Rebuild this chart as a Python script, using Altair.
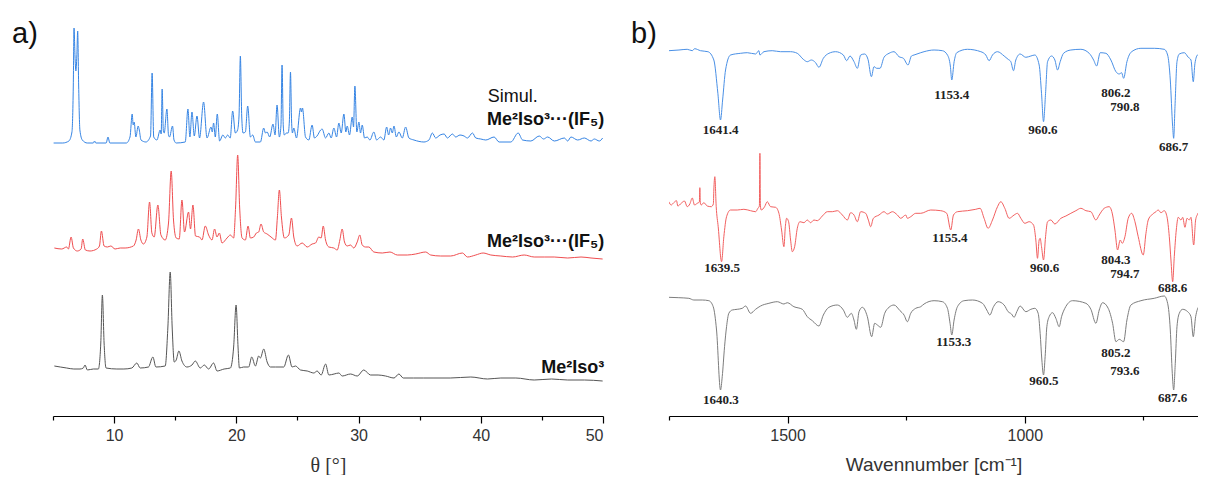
import altair as alt
import pandas as pd

# ---------------- a) powder XRD patterns (theta in degrees, intensity a.u. incl. stacking offset) -------------
XRD_SIM_THETA = [5.05, 5.8, 6.3, 6.55, 6.66, 6.72, 6.8, 6.87, 6.95, 7.02, 7.1, 7.2, 7.4, 7.8, 8.3, 8.4, 8.5, 9.35, 9.5, 9.65,
                 11.0, 11.3, 11.48, 11.56, 11.64, 11.78, 11.97, 12.06, 12.2, 12.6, 12.98, 13.11, 13.24, 13.5, 13.77, 13.85,
                 13.93, 14.03, 14.1, 14.32, 14.45, 14.53, 14.78, 14.9, 15.08, 15.82, 16.04, 16.2, 16.37, 16.56, 16.78, 16.99,
                 17.32, 17.6, 17.93, 18.03, 18.14, 18.28, 18.44, 18.63, 18.9, 19.1, 19.29, 19.5, 19.7, 19.92, 20.1, 20.22,
                 20.33, 20.44, 20.55, 20.74, 20.93, 21.15, 21.34, 21.56, 21.97, 22.24, 22.38, 22.52, 22.73, 23.0, 23.17,
                 23.33, 23.52, 23.65, 23.74, 23.84, 23.93, 24.1, 24.24, 24.34, 24.43, 24.52, 24.59, 24.7, 24.92, 25.25,
                 25.33, 25.41, 25.66, 25.93, 26.2, 26.39, 26.6, 26.9, 27.02, 27.3, 27.57, 27.76, 27.98, 28.2, 28.39, 28.58,
                 28.8, 28.96, 29.07, 29.26, 29.48, 29.59, 29.7, 29.86, 30.03, 30.16, 30.3, 30.49, 30.71, 30.93, 31.25,
                 31.48, 31.8, 32.07, 32.3, 32.46, 32.62, 32.76, 32.9, 33.09, 33.3, 33.58, 33.85, 34.12, 34.53, 35.35,
                 35.76, 36.04, 36.31, 36.67, 37.0, 37.27, 37.68, 37.95, 38.3, 38.63, 38.91, 39.32, 39.59, 40.0, 40.41,
                 41.09, 41.5, 42.46, 43.06, 43.42, 44.1, 44.78, 45.14, 45.47, 46.02, 46.84, 47.11, 47.38, 47.93, 48.47,
                 49.02, 49.29, 49.7, 49.97]
XRD_SIM_I = [273, 273, 275, 284, 330, 388, 360, 345, 360, 385, 330, 286, 276, 273, 273, 275, 273, 273, 279, 273,
             273, 279, 302, 291, 294, 279, 290, 286, 276, 274, 280, 343, 279, 276, 286, 282,
             327, 285, 283, 307, 281, 279, 290, 276, 273, 274, 307, 279, 304, 280, 300, 278,
             314, 278, 289, 284, 293, 279, 302, 275, 281, 278, 281, 278, 305, 283, 286, 300,
             360, 300, 283, 284, 310, 279, 281, 274, 274, 288, 283, 284, 279, 292, 281,
             311, 279, 290, 351, 290, 281, 283, 283, 295, 344, 295, 283, 288, 278, 308,
             304, 308, 279, 276, 291, 278, 280, 286, 287, 278, 283, 278, 288, 279, 293, 283,
             302, 284, 290, 281, 299, 289, 330, 284, 294, 283, 291, 278, 279, 276, 284,
             276, 279, 276, 289, 281, 288, 283, 290, 279, 284, 278, 289, 278, 276, 274,
             276, 283, 278, 281, 282, 278, 282, 279, 281, 280, 278, 283, 278, 277, 276,
             279, 274, 274, 283, 276, 275, 280, 277, 279, 275, 278, 275, 279, 276, 278,
             275, 277, 275, 278]

XRD_CO_THETA = [5.11, 5.71, 6.12, 6.26, 6.48, 6.67, 6.99, 7.3, 7.43, 7.65, 8.03, 8.58, 8.8, 8.96, 9.18, 9.45, 9.73, 10.08,
                10.5, 10.9, 11.58, 11.8, 11.99, 12.19, 12.4, 12.68, 12.9, 13.09, 13.28, 13.58, 13.83, 14.18, 14.45, 14.67,
                14.86, 15.08, 15.33, 15.55, 15.76, 16.09, 16.25, 16.45, 16.66, 16.99, 17.19, 17.46, 17.73, 18.01, 18.22,
                18.42, 18.61, 18.83, 19.24, 19.51, 19.78, 19.94, 20.11, 20.27, 20.47, 20.74, 20.96, 21.15, 21.42, 21.64,
                21.83, 22.02, 22.24, 22.52, 22.84, 23.2, 23.36, 23.52, 23.69, 23.93, 24.29, 24.51, 24.7, 24.97, 25.39,
                25.8, 26.2, 26.48, 26.75, 26.94, 27.11, 27.3, 27.57, 27.98, 28.25, 28.47, 28.66, 28.85, 29.07, 29.34,
                29.61, 29.89, 30.1, 30.3, 30.57, 30.84, 31.25, 31.94, 32.57, 33.17, 33.99, 34.67, 35.49, 35.9, 36.72,
                37.54, 38.5, 38.91, 39.59, 40.19, 40.82, 41.64, 42.6, 43.55, 44.37, 45.19, 46.01, 47.11, 48.2, 49.02,
                49.97]
XRD_CO_I = [168, 167, 169, 167, 179, 168, 165, 167, 177, 166, 165, 167, 170, 185, 170, 169, 170, 167,
            168, 168, 170, 176, 187, 176, 172, 179, 214, 183, 179, 211, 181, 176, 193, 245,
            196, 178, 177, 216, 184, 204, 187, 211, 180, 179, 176, 190, 181, 176, 187,
            179, 183, 173, 178, 181, 178, 209, 261, 209, 178, 176, 190, 178, 179, 183,
            184, 192, 184, 182, 179, 176, 199, 226, 199, 178, 181, 198, 179, 170, 173,
            169, 172, 173, 179, 178, 190, 176, 169, 168, 166, 176, 187, 174, 170, 171,
            168, 174, 181, 171, 169, 169, 164, 163, 164, 161, 161, 162, 164, 161, 160,
            160, 163, 159, 161, 163, 161, 160, 159, 161, 159, 159, 159, 158, 159, 158,
            157]

XRD_ISO_THETA = [5.11, 5.6, 6.12, 6.7, 7.21, 7.48, 7.62, 7.81, 8.3, 8.71, 8.91, 9.04, 9.18, 9.34, 10.22, 10.8, 11.45,
                 11.86, 12.13, 12.81, 13.17, 13.42, 14.18, 14.4, 14.59, 14.75, 14.92, 15.08, 15.3, 15.55, 15.96, 16.37,
                 16.64, 17.05, 17.38, 17.73, 18.14, 18.42, 19.0, 19.51, 19.78, 19.98, 20.14, 20.25, 20.6, 21.01, 21.26,
                 21.56, 21.83, 21.97, 22.24, 22.52, 22.79, 23.2, 23.88, 24.26, 24.56, 24.84, 25.25, 25.8, 26.34, 26.61,
                 26.94, 27.3, 27.57, 28.0, 28.39, 28.66, 29.34, 29.89, 30.43, 30.98, 31.6, 32.21, 32.9, 33.3, 33.66,
                 34.5, 35.3, 36.17, 37.5, 39.18, 40.55, 41.64, 42.87, 44.37, 45.8, 47.11, 48.5, 49.97]
XRD_ISO_I = [50, 49, 48, 47, 47, 48, 51, 46, 47, 47, 73, 121, 73, 48, 47, 47, 48,
             53, 48, 49, 59, 49, 50, 89, 144, 89, 54, 56, 65, 55, 49, 51,
             55, 48, 51, 47, 53, 45, 47, 48, 69, 111, 69, 48, 49, 49, 59,
             50, 60, 58, 67, 54, 49, 49, 49, 61, 49, 50, 46, 45, 43, 45,
             41, 52, 41, 42, 43, 40, 42, 40, 46, 41, 41, 40, 38, 42, 38,
             38, 38, 38, 38, 39, 37, 38, 38, 36, 37, 36, 36, 35]

XRD_SERIES = ["Simul. Me2Iso3···(IF5)", "Me2Iso3···(IF5)", "Me2Iso3"]
XRD_COLORS = ["#3584e4", "#ef4d4f", "#555555"]

XRD_LABEL_THETA = [50.1, 50.1, 50.1]
XRD_LABEL_I = [291, 169, 43]
XRD_LABEL_TEXT = ["Me²Iso³···(IF₅)", "Me²Iso³···(IF₅)", "Me²Iso³"]
SIMUL_THETA, SIMUL_I, SIMUL_TEXT = [40.57], [314], ["Simul."]

# ---------------- b) IR spectra (wavenumber, transmittance a.u. incl. offset) ----------------
IR_SIM_WN = [1750.4, 1729, 1711.6, 1701, 1696, 1683.6, 1668, 1655.5, 1647, 1641.4, 1637, 1630.8, 1620.3, 1599, 1585,
             1567.5, 1560.5, 1558.4, 1550, 1532.4, 1514.8, 1493.7, 1479.6, 1467, 1458.5, 1450, 1441, 1434, 1424.7,
             1412.9, 1398.7, 1382.5, 1375.5, 1368.5, 1360, 1353, 1346, 1337.6, 1330.6, 1323.4, 1317.9, 1312.2, 1305.2,
             1296.8, 1286.2, 1275.7, 1265.2, 1255.9, 1246.2, 1239, 1233.5, 1219.4, 1212.4, 1191.3, 1173.7, 1163.1,
             1157, 1154, 1149, 1143.5, 1121, 1092.8, 1082.3, 1075.3, 1068.2, 1057.6, 1043.6, 1035.2, 1029.5, 1023.9,
             1019, 1009.9, 997.9, 987.3, 978.9, 969.8, 964.8, 960.6, 956.3, 952.1, 943.7, 936.7, 931, 925.5, 918.4,
             903, 881.9, 864.3, 855, 848.7, 841.1, 829.1, 818.6, 808, 801, 796, 791.8, 784.8, 774.9, 755.3, 727.2,
             706.1, 699, 693.4, 688.4, 686.3, 683.5, 679.3, 674.4, 663.9, 655.5, 649.8, 645, 641.4, 635.7, 628.6,
             625.1, 621.6, 616]
IR_SIM_T = [365.3, 366, 366.7, 365.3, 367.3, 365.3, 364.3, 356, 322.7, 296, 316, 346, 361, 362.7, 363.3,
            362, 365.3, 361, 364.3, 365.3, 364.3, 364.3, 362.7, 356.7, 354.3, 356, 353.3, 348.7, 357.7,
            362.7, 364.3, 361, 355.3, 360, 354.3, 347.7, 361, 362, 356.7, 339.3, 349.3, 347.7, 347.7,
            358.7, 362.7, 364.3, 359.3, 357.7, 351, 360, 361, 363.3, 364.3, 366, 365.3, 361,
            350, 336, 354.3, 363.3, 366.7, 364.3, 361, 355.3, 361, 364.3, 360, 356.7, 354.3, 345.3,
            356, 362, 358.7, 360, 361, 351, 322.7, 294.3, 322.7, 354.3, 360, 356, 346, 354.3, 362.7,
            366, 366.7, 362.7, 356, 350, 363.3, 362.7, 356, 344.3, 342, 343.3, 337.7, 354.3, 364.3, 367.7, 367.7,
            366.7, 361, 336, 289.3, 277.7, 309.3, 354.3, 362, 363.3, 358.7, 356, 334.3, 352.7, 361, 357.7,
            347.7, 364.3, 374.3]

IR_CO_WN = [1750.4, 1745.4, 1740, 1734.2, 1731.4, 1724.3, 1717.3, 1711.6, 1706.1, 1701, 1696.2, 1690.5, 1686, 1685,
            1684, 1682, 1676.6, 1669.4, 1661, 1656.5, 1655.5, 1653.4, 1650.5, 1646.3, 1639.2, 1634.4, 1628.7, 1620.3,
            1606.2, 1592.2, 1578.1, 1567.5, 1562.6, 1559.5, 1558.4, 1557.3, 1555.5, 1548.5, 1542.9, 1535.9, 1525.3,
            1518.3, 1512.7, 1507.8, 1504.8, 1502.1, 1497.9, 1493.7, 1490.1, 1485.2, 1479.6, 1474, 1465.6, 1458.5,
            1451.5, 1444.5, 1437.4, 1426.8, 1416.3, 1405.7, 1395.2, 1384.6, 1374.1, 1367.1, 1360, 1353, 1346, 1335.5,
            1329.8, 1324.9, 1319.3, 1307.4, 1296.8, 1289.7, 1279.1, 1268.6, 1261.6, 1251, 1247.5, 1240.5, 1229.9,
            1219.4, 1198.3, 1177.2, 1164.6, 1156.1, 1150.4, 1142, 1121, 1103.4, 1094.3, 1085.9, 1077.4, 1068.2,
            1057.6, 1050.6, 1042.2, 1033.1, 1022.6, 1015.5, 1008.4, 1000, 990.9, 981.7, 976.8, 973.3, 969.8, 967.7,
            964.8, 960.6, 956.3, 952.1, 945.1, 936.7, 924, 913.5, 903, 892.4, 881.9, 871.3, 860.8, 850.2, 843.2,
            832.7, 822.2, 815, 810.1, 804.5, 799, 794.7, 789, 782.1, 774.9, 767.9, 761, 750.4, 744.7, 739.9, 732.7,
            723.6, 718.8, 713.1, 706.1, 700.4, 695.5, 692, 688.4, 685, 680.8, 676.6, 670.9, 667.3, 662.5, 658.2,
            653.4, 649.8, 644.1, 640, 635.7, 630.9, 626.7, 623.1, 619.7, 616]
IR_CO_T = [214.3, 211, 213.3, 215.3, 210, 212.7, 215, 209.3, 212, 218, 211, 212.7, 214, 228.3,
           213, 211, 213.3, 210, 209.3, 212, 226, 239.3, 209.3, 189.3, 154.3, 179.3, 199.3, 206,
           206, 206.7, 205.3, 204.3, 207.7, 210, 262.7, 210, 206, 209.3, 214.3, 209.3, 208.7,
           202.7, 186, 169.3, 189.3, 197.7, 194.3, 176, 164.3, 169.3, 187.7, 194.3, 193.3, 196,
           193.3, 196, 195.3, 200, 204.3, 204.3, 205.3, 201, 196, 203.3, 201, 194.3, 204.3, 202.7,
           196, 189.3, 197.7, 201, 204.3, 202, 204.3, 201, 197.7, 201, 197.7, 199.3, 202.7,
           202.7, 206, 205.3, 202.7, 186, 201, 204.3, 205.3, 206.7, 207.7, 197.7, 187.7, 196,
           209.3, 214.3, 207.7, 197.7, 201, 202.7, 197.7, 192.7, 194.3, 191, 176, 157.7, 176, 177.7,
           169.3, 156, 179.3, 194.3, 196, 192, 197.7, 200, 202.7, 205.3, 207.7, 205.3, 204.3, 196, 201,
           207.7, 209.3, 201, 186, 166, 176, 172.7, 179.3, 197.7, 202.7, 194.3, 179.3, 161, 182.7, 196, 201,
           204.3, 206, 203.3, 205.3, 199.3, 179.3, 156, 134.3, 159.3, 186, 198.7, 196, 198.7, 188.7, 197.7,
           196, 198.7, 171, 196, 202, 206, 217.7, 176, 221, 189.3]

IR_ISO_WN = [1750.4, 1729.3, 1708.2, 1697.7, 1680, 1666, 1656.8, 1649.8, 1641.4, 1637.8, 1632.9, 1628.7, 1623.9,
             1616.7, 1606.2, 1595.6, 1588.6, 1578.1, 1567.5, 1557, 1539.4, 1521.7, 1507.8, 1500.7, 1486.7, 1469,
             1458.5, 1447.9, 1434, 1424.7, 1412.9, 1395.2, 1382.5, 1374.1, 1365.7, 1360.1, 1355.1, 1349.5, 1342.4,
             1331.9, 1322.8, 1316.5, 1310.8, 1303.8, 1295.4, 1286.3, 1275.7, 1263.1, 1254.6, 1247.5, 1240.5, 1229.9,
             1219.4, 1212.4, 1191.3, 1173.7, 1163.1, 1157.6, 1154, 1149.1, 1142, 1128, 1110.4, 1089.2, 1080.2, 1073.8,
             1066, 1056.3, 1043.6, 1035.2, 1028.1, 1022.6, 1016.9, 1009.9, 997.9, 987.3, 978.9, 971.9, 967.7, 964.1,
             960.6, 957.2, 953.6, 948.7, 941.6, 934.6, 927.6, 922.6, 915.6, 899.4, 871.3, 860.8, 850.2, 843.2, 836.1,
             824.3, 815, 808, 801, 791.8, 784.8, 776.4, 755.3, 727.2, 706.1, 699, 693.4, 689.2, 686.3, 682.9, 679.3,
             674.4, 667.3, 656.8, 649.8, 645, 640, 632.3, 626.7, 621.9, 614.7]
IR_ISO_T = [118.7, 118.3, 117.7, 116, 116, 115.3, 109.3, 86, 26, 39.3, 69.3, 89.3, 102.7,
            106, 106.7, 107.7, 110, 102.7, 106.7, 110, 112.7, 114.3, 112, 113.3, 109.3, 106.7,
            99.3, 95.3, 90, 101, 108.7, 111, 106, 98.7, 102.7, 96, 86.7, 104.3, 108.7,
            99.3, 79.3, 92.7, 91, 88.7, 102.7, 108.7, 111, 105.3, 101, 94.3, 102.7, 107.7,
            109.3, 112, 115.3, 114.3, 107.7, 92.7, 81, 96, 109.3, 115.3, 116, 112.7, 106, 101,
            109.3, 114.3, 111, 104.3, 102, 98.7, 104.3, 110, 104.3, 106.7, 107.7, 102.7, 82.7, 56,
            41, 59.3, 89.3, 99.3, 103.3, 97.7, 89.3, 99.3, 107.7, 115.3, 112.7, 106.7, 92.7, 106, 113.3,
            107.7, 92.7, 74.3, 76.7, 74.3, 96, 111, 115.3, 117.7, 120, 112.7, 86, 42.7, 26, 52.7, 89.3,
            102.7, 106.7, 104.3, 99.3, 79.3, 99.3, 109.3, 104.3, 99.3, 112]

IR_SERIES = ["Simul. Me2Iso3···(IF5)", "Me2Iso3···(IF5)", "Me2Iso3"]
IR_COLORS = ["#4a90e6", "#f25f5f", "#7d7d7d"]

IR_LABEL_WN = [1641.4, 1154, 962, 808, 789, 686.3,
               1637.8, 1158, 958.4, 808, 789, 688.4,
               1640.8, 1150, 960, 808, 789, 688.4]
IR_LABEL_T = [286, 321, 286, 323, 309, 269,
              148, 178, 148, 156, 142, 128,
              16.5, 74, 35, 63, 45.5, 18.5]
IR_LABEL_TEXT = ["1641.4", "1153.4", "960.6", "806.2", "790.8", "686.7",
                 "1639.5", "1155.4", "960.6", "804.3", "794.7", "688.6",
                 "1640.3", "1153.3", "960.5", "805.2", "793.6", "687.6"]

# ---------------- build frames ----------------
xrd_df = pd.concat([
    pd.DataFrame({"x": XRD_SIM_THETA, "y": XRD_SIM_I, "series": XRD_SERIES[0]}),
    pd.DataFrame({"x": XRD_CO_THETA, "y": XRD_CO_I, "series": XRD_SERIES[1]}),
    pd.DataFrame({"x": XRD_ISO_THETA, "y": XRD_ISO_I, "series": XRD_SERIES[2]}),
])
ir_df = pd.concat([
    pd.DataFrame({"x": IR_SIM_WN, "y": IR_SIM_T, "series": IR_SERIES[0]}),
    pd.DataFrame({"x": IR_CO_WN, "y": IR_CO_T, "series": IR_SERIES[1]}),
    pd.DataFrame({"x": IR_ISO_WN, "y": IR_ISO_T, "series": IR_SERIES[2]}),
])
xrd_lab = pd.DataFrame({"x": XRD_LABEL_THETA, "y": XRD_LABEL_I, "t": XRD_LABEL_TEXT})
sim_lab = pd.DataFrame({"x": SIMUL_THETA, "y": SIMUL_I, "t": SIMUL_TEXT})
ir_lab = pd.DataFrame({"x": IR_LABEL_WN, "y": IR_LABEL_T, "t": IR_LABEL_TEXT})

LEFT_W, RIGHT_W, H = 550, 529, 396

axis_common = dict(grid=False, domainColor="#000000", domainWidth=1.2, tickColor="#000000", tickWidth=1.2,
                   labelFont="Liberation Sans", labelFontSize=16, labelColor="#333333", labelPadding=4,
                   titleColor="#333333", titleFontWeight="normal", titlePadding=12, format="d")

left_axis = alt.Axis(values=[5, 10, 15, 20, 25, 30, 35, 40, 45, 50],
                     labelExpr="datum.value % 10 === 0 ? datum.label : ''",
                     tickSize={"condition": {"test": "datum.value % 10 === 0", "value": 7}, "value": 4},
                     title="θ [°]", titleFont="Liberation Serif", titleFontSize=20, **axis_common)
right_axis = alt.Axis(values=[1750, 1500, 1250, 1000, 750],
                      labelExpr="datum.value % 500 === 0 ? datum.label : ''",
                      tickSize={"condition": {"test": "datum.value % 500 === 0", "value": 7}, "value": 4},
                      title="Wavennumber [cm⁻¹]", titleFont="Liberation Sans", titleFontSize=19, **axis_common)

xl = alt.X("x:Q", scale=alt.Scale(domain=[5, 50], nice=False, zero=False), axis=left_axis)
xr = alt.X("x:Q", scale=alt.Scale(domain=[1750, 635], nice=False, zero=False), axis=right_axis)
yy = alt.Y("y:Q", scale=alt.Scale(domain=[0, H], nice=False, zero=False), axis=None)

left_lines = alt.Chart(xrd_df).mark_line(strokeWidth=1.0, clip=True, interpolate="monotone").encode(
    x=xl, y=yy,
    color=alt.Color("series:N", scale=alt.Scale(domain=XRD_SERIES, range=XRD_COLORS), legend=None))
left_names = alt.Chart(xrd_lab).mark_text(align="right", baseline="alphabetic", font="Liberation Sans",
                                          fontSize=18, fontWeight="bold", color="#111111").encode(
    x=xl, y=yy, text="t:N")
left_simul = alt.Chart(sim_lab).mark_text(align="left", baseline="alphabetic", font="Liberation Sans",
                                          fontSize=18, color="#111111").encode(x=xl, y=yy, text="t:N")
left_tag = alt.Chart(pd.DataFrame({"t": ["a)"]})).mark_text(align="left", baseline="alphabetic",
                                                            font="Liberation Sans", fontSize=29,
                                                            color="#111111").encode(
    x=alt.value(-41), y=alt.value(23), text="t:N")
left = alt.layer(left_lines, left_names, left_simul, left_tag).properties(width=LEFT_W, height=H)

right_lines = alt.Chart(ir_df).mark_line(strokeWidth=1.0, clip=True, interpolate="monotone").encode(
    x=xr, y=yy,
    color=alt.Color("series:N", scale=alt.Scale(domain=IR_SERIES, range=IR_COLORS), legend=None))
right_peaks = alt.Chart(ir_lab).mark_text(align="center", baseline="middle", font="Liberation Serif",
                                          fontSize=13, fontWeight="bold", color="#222222").encode(
    x=xr, y=yy, text="t:N")
right_tag = alt.Chart(pd.DataFrame({"t": ["b)"]})).mark_text(align="left", baseline="alphabetic",
                                                             font="Liberation Sans", fontSize=29,
                                                             color="#111111").encode(
    x=alt.value(-38), y=alt.value(23), text="t:N")
right = alt.layer(right_lines, right_peaks, right_tag).properties(width=RIGHT_W, height=H)

chart = alt.hconcat(left, right, spacing=26).resolve_scale(color="independent").properties(
    padding={"left": 4, "top": 12, "right": 0, "bottom": 0}
).configure_view(stroke=None)

chart.save("out.html", embed_options={"renderer": "svg", "actions": False})
